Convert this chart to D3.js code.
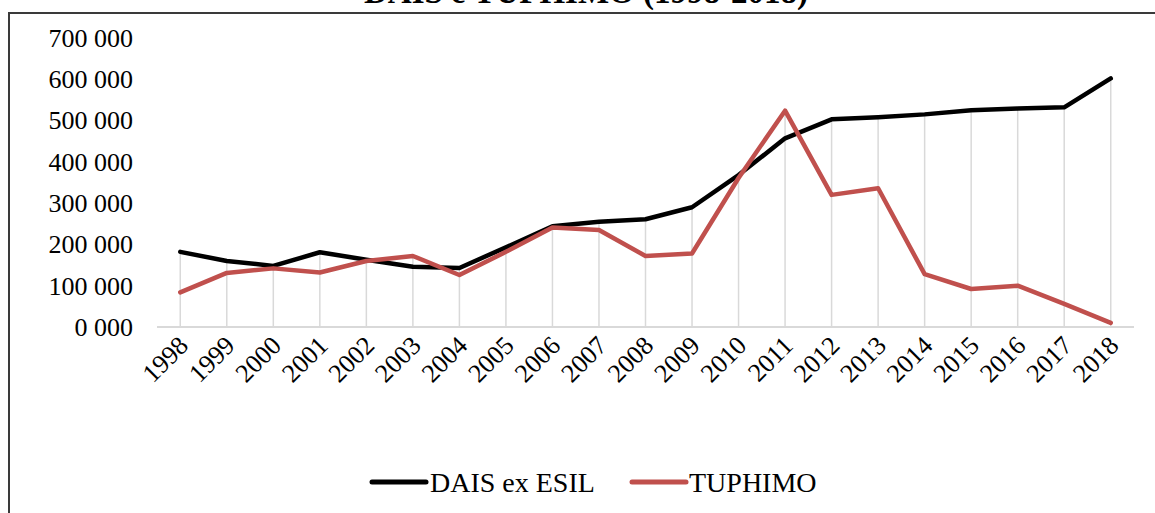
<!DOCTYPE html>
<html>
<head>
<meta charset="utf-8">
<script src="https://cdn.jsdelivr.net/npm/d3@7"></script>
<style>
  body { margin: 0; background: #fff; }
  svg { display: block; font-family: "Liberation Serif", "Times New Roman", serif; }
</style>
</head>
<body>
<svg id="chart" width="1155" height="513"></svg>
<script>
const years = ['1998', '1999', '2000', '2001', '2002', '2003', '2004', '2005', '2006', '2007',
  '2008', '2009', '2010', '2011', '2012', '2013', '2014', '2015', '2016', '2017', '2018'];
const daisValues = [182000, 160000, 148000, 181000, 163000, 146000, 143000, 193000, 244000, 255000,
  261000, 290000, 368000, 457000, 503000, 508000, 515000, 525000, 529000, 532000, 602000];
const tuphimoValues = [84000, 131000, 142000, 132000, 160000, 172000, 126000, 182000, 241000, 235000,
  172000, 178000, 361000, 524000, 320000, 336000, 128000, 92000, 100000, 56000, 10000];
const yTicks = [0, 100000, 200000, 300000, 400000, 500000, 600000, 700000];
const yTickLabels = ['0 000', '100 000', '200 000', '300 000', '400 000', '500 000', '600 000', '700 000'];
const seriesNames = ['DAIS ex ESIL', 'TUPHIMO'];
const seriesColors = ['#000000', '#c0504d'];

const svg = d3.select('#chart');
const plot = { left: 157, right: 1134, top: 38, bottom: 327 };

// outer frame, right and bottom edges fall outside the picture
svg.append('rect')
  .attr('x', 9).attr('y', 13)
  .attr('width', 1170).attr('height', 520)
  .attr('fill', 'none')
  .attr('stroke', '#3a3a3a')
  .attr('stroke-width', 2);

// title, mostly cut off at the top
svg.append('text')
  .attr('x', 586).attr('y', 3)
  .attr('text-anchor', 'middle')
  .attr('font-size', 33)
  .attr('font-weight', 'bold')
  .text('DAIS e TUPHIMO (1998-2018)');

const x = d3.scalePoint().domain(years).range([plot.left, plot.right]).padding(0.5);
const y = d3.scaleLinear().domain([0, 700000]).range([plot.bottom, plot.top]);

// drop lines from the higher series down to the axis
svg.append('g')
  .selectAll('line')
  .data(years)
  .join('line')
  .attr('x1', d => x(d)).attr('x2', d => x(d))
  .attr('y1', plot.bottom)
  .attr('y2', (d, i) => y(Math.max(daisValues[i], tuphimoValues[i])))
  .attr('stroke', '#d9d9d9')
  .attr('stroke-width', 1.5);

// y axis labels
const yAxis = d3.axisLeft(y)
  .tickValues(yTicks)
  .tickFormat((d, i) => yTickLabels[i])
  .tickSize(0)
  .tickPadding(0);
const yAxisG = svg.append('g').attr('transform', 'translate(133,0)').call(yAxis);
yAxisG.select('.domain').remove();
yAxisG.selectAll('text')
  .attr('font-family', '"Liberation Serif", serif')
  .attr('font-size', 26)
  .attr('fill', '#000');

// x axis
const xAxis = d3.axisBottom(x).tickSize(0).tickPadding(0);
const xAxisG = svg.append('g').attr('transform', `translate(0,${plot.bottom})`).call(xAxis);
xAxisG.select('.domain')
  .attr('d', `M${plot.left},0H${plot.right}`)
  .attr('stroke', '#d9d9d9')
  .attr('stroke-width', 2);
xAxisG.selectAll('text')
  .attr('font-family', '"Liberation Serif", serif')
  .attr('font-size', 26)
  .attr('fill', '#000')
  .attr('text-anchor', 'end')
  .attr('dy', '0')
  .attr('transform', 'translate(9,20) rotate(-45)');

// series lines
const allSeries = [daisValues, tuphimoValues];
const line = d3.line().x((d, i) => x(years[i])).y(d => y(d));
svg.append('g')
  .selectAll('path')
  .data(allSeries)
  .join('path')
  .attr('d', d => line(d))
  .attr('fill', 'none')
  .attr('stroke', (d, i) => seriesColors[i])
  .attr('stroke-width', 4.5)
  .attr('stroke-linejoin', 'round')
  .attr('stroke-linecap', 'round');

// legend
const legendItems = [{ x: 372, textX: 430 }, { x: 632, textX: 689 }];
const legend = svg.append('g');
legend.selectAll('line')
  .data(seriesNames)
  .join('line')
  .attr('x1', (d, i) => legendItems[i].x)
  .attr('x2', (d, i) => legendItems[i].x + 54)
  .attr('y1', 482).attr('y2', 482)
  .attr('stroke', (d, i) => seriesColors[i])
  .attr('stroke-width', 5)
  .attr('stroke-linecap', 'round');
legend.selectAll('text')
  .data(seriesNames)
  .join('text')
  .attr('x', (d, i) => legendItems[i].textX)
  .attr('y', 492)
  .attr('font-size', 28)
  .text(d => d);
</script>
</body>
</html>
